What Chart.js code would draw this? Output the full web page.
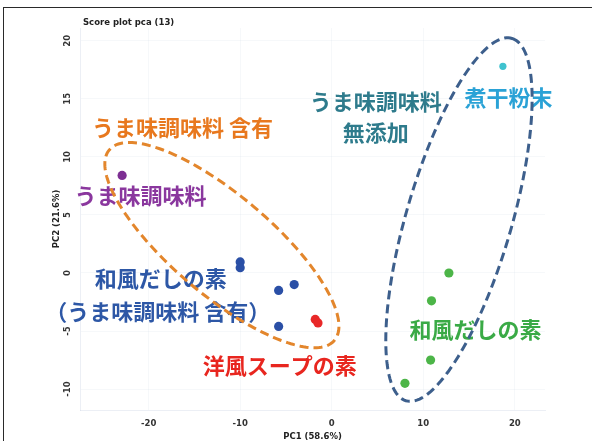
<!DOCTYPE html>
<html lang="ja">
<head>
<meta charset="utf-8">
<title>Score plot pca (13)</title>
<script src="https://cdn.jsdelivr.net/npm/chart.js@4.4.1/dist/chart.umd.min.js"></script>
<style>
  html, body { margin: 0; padding: 0; background: #ffffff; }
  #wrap { position: relative; width: 592px; height: 441px; overflow: hidden; }
  #plot { position: absolute; left: 0; top: 0; }
  #frame {
    position: absolute; left: 3px; top: 7px; width: 600px; height: 450px;
    border-top: 1.5px solid #2a2a2a; border-left: 1.5px solid #2a2a2a;
    pointer-events: none;
  }
</style>
</head>
<body>
<div id="wrap">
  <canvas id="plot" width="592" height="441"></canvas>
  <div id="frame"></div>
</div>
<script>
// PCA scores (PC1, PC2) by product group
const umamiSeasoningX = [-22.9];
const umamiSeasoningY = [8.4];

const wafuUmamiX = [-10.0, -10.0, -5.8, -4.1, -5.8];
const wafuUmamiY = [0.95, 0.45, -1.5, -1.0, -4.6];

const yofuSoupX = [-1.8, -1.5];
const yofuSoupY = [-4.0, -4.3];

const niboshiX = [18.7];
const niboshiY = [17.8];

const wafuDashiX = [12.8, 10.9, 10.8, 8.0];
const wafuDashiY = [0.0, -2.4, -7.5, -9.5];

// axis ticks
const xTicks = [-20, -10, 0, 10, 20];
const yTicks = [-10, -5, 0, 5, 10, 15, 20];

const toPoints = (xs, ys) => xs.map((x, i) => ({ x: x, y: ys[i] }));

// group outlines: centre, two semi-axis vectors (data units)
const groupOutlines = [
  { center: [-12.0, 2.4], u: [12.3, -8.2], v: [-3.5, -3.3], color: '#e3862c' },
  { center: [13.9, 4.6], u: [5.8, 15.6], v: [5.5, -1.32], color: '#3d5f8c' }
];

// group captions, anchored at their left edge / vertical middle
const captions = [
  { text: 'うま味調味料 含有', x: -26.2, y: 12.5, color: '#e8781e' },
  { text: 'うま味調味料', x: -28.1, y: 6.7, color: '#8a379e' },
  { text: '和風だしの素', x: -25.9, y: -0.5, color: '#2d57a6' },
  { text: '（うま味調味料 含有）', x: -31.3, y: -3.3, color: '#2d57a6' },
  { text: '洋風スープの素', x: -14.1, y: -8.0, color: '#e8261f' },
  { text: 'うま味調味料', x: -2.4, y: 14.8, color: '#2e7b8c' },
  { text: '無添加', x: 1.2, y: 12.1, color: '#2e7b8c' },
  { text: '煮干粉末', x: 14.5, y: 15.1, color: '#2aa2d6' },
  { text: '和風だしの素', x: 8.5, y: -4.9, color: '#3aaa46' }
];

const CJK = '"Noto Sans CJK JP", "Noto Sans", sans-serif';
const SANS = '"DejaVu Sans", "Liberation Sans", sans-serif';

const decorations = {
  id: 'decorations',
  afterDatasetsDraw(chart) {
    const ctx = chart.ctx;
    const xs = chart.scales.x, ys = chart.scales.y;
    const area = chart.chartArea;

    // plot title
    ctx.save();
    ctx.fillStyle = '#222';
    ctx.font = 'bold 8.5px ' + SANS;
    ctx.textAlign = 'left';
    ctx.textBaseline = 'middle';
    ctx.fillText('Score plot pca (13)', area.left + 3, area.top - 5.5);
    ctx.restore();

    // rotated y tick labels
    ctx.save();
    ctx.fillStyle = '#333';
    ctx.font = 'bold 8.5px ' + SANS;
    ctx.textAlign = 'center';
    ctx.textBaseline = 'middle';
    ys.ticks.forEach((t, i) => {
      const py = ys.getPixelForTick(i);
      ctx.save();
      ctx.translate(area.left - 12, py);
      ctx.rotate(-Math.PI / 2);
      ctx.fillText(String(t.value), 0, 0);
      ctx.restore();
    });
    ctx.restore();

    // captions
    ctx.save();
    ctx.font = 'bold 22px ' + CJK;
    ctx.textAlign = 'left';
    ctx.textBaseline = 'middle';
    captions.forEach(c => {
      ctx.fillStyle = c.color;
      ctx.fillText(c.text, xs.getPixelForValue(c.x), ys.getPixelForValue(c.y));
    });
    ctx.restore();

    // dashed group outlines
    ctx.save();
    ctx.lineWidth = 3;
    ctx.setLineDash([9, 5]);
    ctx.lineCap = 'butt';
    groupOutlines.forEach(g => {
      ctx.strokeStyle = g.color;
      ctx.beginPath();
      const n = 180;
      for (let k = 0; k <= n; k++) {
        const t = (k / n) * Math.PI * 2;
        const dx = g.center[0] + Math.cos(t) * g.u[0] + Math.sin(t) * g.v[0];
        const dy = g.center[1] + Math.cos(t) * g.u[1] + Math.sin(t) * g.v[1];
        const px = xs.getPixelForValue(dx), py = ys.getPixelForValue(dy);
        if (k === 0) ctx.moveTo(px, py); else ctx.lineTo(px, py);
      }
      ctx.closePath();
      ctx.stroke();
    });
    ctx.restore();
  }
};

const ticksFrom = list => scale => { scale.ticks = list.map(v => ({ value: v })); };

new Chart(document.getElementById('plot'), {
  type: 'scatter',
  data: {
    datasets: [
      { label: 'うま味調味料', data: toPoints(umamiSeasoningX, umamiSeasoningY), backgroundColor: '#7d2f93' },
      { label: '和風だしの素（うま味調味料 含有）', data: toPoints(wafuUmamiX, wafuUmamiY), backgroundColor: '#2a4fa6' },
      { label: '洋風スープの素', data: toPoints(yofuSoupX, yofuSoupY), backgroundColor: '#e82828' },
      { label: '煮干粉末', data: toPoints(niboshiX, niboshiY), backgroundColor: '#3fc2cf', pointRadius: 3.6 },
      { label: '和風だしの素', data: toPoints(wafuDashiX, wafuDashiY), backgroundColor: '#4cb548' }
    ]
  },
  options: {
    responsive: false,
    animation: false,
    devicePixelRatio: 1,
    layout: { padding: { left: 0, top: 28, right: 47, bottom: 0 } },
    elements: { point: { radius: 4.6, borderWidth: 0, hoverRadius: 4.6 } },
    plugins: { legend: { display: false }, tooltip: { enabled: false } },
    scales: {
      x: {
        type: 'linear',
        min: -27.5,
        max: 23.3,
        afterBuildTicks: ticksFrom(xTicks),
        afterFit: s => { s.height = 31; },
        grid: { color: 'rgba(200,210,225,0.16)', drawTicks: false },
        border: { color: 'rgba(200,210,225,0.35)' },
        ticks: { padding: 9, color: '#333', font: { family: SANS, size: 8.5, weight: 'bold' }, maxRotation: 0 },
        title: { display: true, text: 'PC1 (58.6%)', color: '#222', font: { family: SANS, size: 8.5, weight: 'bold' }, padding: { top: 0, bottom: -1 } }
      },
      y: {
        type: 'linear',
        min: -11.8,
        max: 21.1,
        afterBuildTicks: ticksFrom(yTicks),
        afterFit: s => { s.width = 80; },
        grid: { color: 'rgba(200,210,225,0.16)', drawTicks: false },
        border: { color: 'rgba(200,210,225,0.35)' },
        ticks: { display: false },
        title: { display: true, text: 'PC2 (21.6%)', color: '#222', font: { family: SANS, size: 8.5, weight: 'bold' }, padding: { top: 52, bottom: 0 } }
      }
    }
  },
  plugins: [decorations]
});
</script>
</body>
</html>
